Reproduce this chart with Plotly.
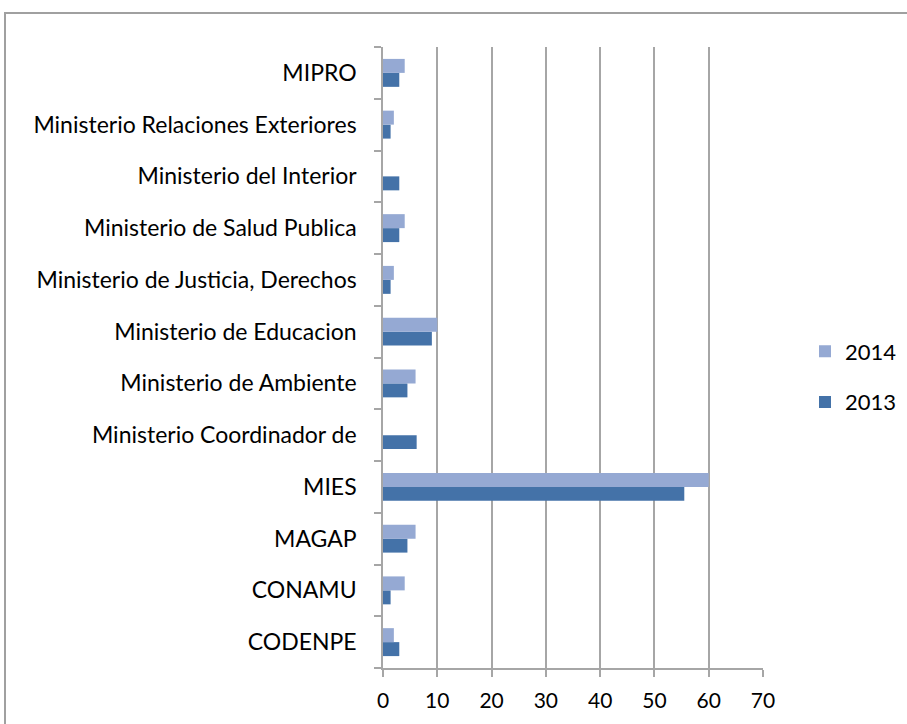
import plotly.graph_objects as go

categories = ["CODENPE", "CONAMU", "MAGAP", "MIES", "Ministerio Coordinador de",
              "Ministerio de Ambiente", "Ministerio de Educacion",
              "Ministerio de Justicia, Derechos", "Ministerio de Salud Publica",
              "Ministerio del Interior", "Ministerio Relaciones Exteriores", "MIPRO"]
values_2013 = [3, 1.4, 4.5, 55.5, 6.2, 4.5, 9, 1.4, 3, 3, 1.4, 3]
values_2014 = [2, 4, 6, 60, 0, 6, 10, 2, 4, 0, 2, 4]
x_ticks = [0, 10, 20, 30, 40, 50, 60, 70]

FONT = "Lato"
W, H = 907, 724
L, R, T, B = 383, 763, 47, 668

fig = go.Figure()
fig.add_trace(go.Bar(y=categories, x=values_2013, orientation="h", name="2013",
                     marker=dict(color="#4472a8", line=dict(width=0)),
                     legendgroup="a", legendrank=2))
fig.add_trace(go.Bar(y=categories, x=values_2014, orientation="h", name="2014",
                     marker=dict(color="#95a9d3", line=dict(width=0)),
                     legendgroup="b", legendrank=1))

pw, ph = R - L, B - T
def px(x): return (x - L) / pw
def py(y): return (B - y) / ph

fig.add_shape(type="rect", xref="paper", yref="paper",
              x0=px(5), y0=py(13), x1=px(1200), y1=py(900),
              line=dict(color="#a0a0a0", width=2), fillcolor="rgba(0,0,0,0)", layer="below")

fig.update_layout(
    width=W, height=H,
    margin=dict(l=L, r=W - R, t=T, b=H - B, autoexpand=False),
    paper_bgcolor="white", plot_bgcolor="white",
    barmode="group", bargap=0.46, bargroupgap=0,
    font=dict(family=FONT, size=23, color="#000000"),
    showlegend=True,
    legend=dict(x=px(805), y=py(377), xanchor="left", yanchor="middle",
                traceorder="grouped", tracegroupgap=19,
                font=dict(size=22, family=FONT), bgcolor="rgba(0,0,0,0)"),
    xaxis=dict(range=[0, 70], tickvals=x_ticks, ticktext=[str(v) for v in x_ticks],
               tickfont=dict(size=21),
               showgrid=True, gridcolor="#a6a6a6", gridwidth=1.5,
               zeroline=False, showline=True, linecolor="#a6a6a6", linewidth=1.5,
               ticks="outside", ticklen=7, tickcolor="#a6a6a6", tickwidth=1.5,
               ticklabelstandoff=6, fixedrange=True),
    yaxis=dict(type="category", categoryorder="array", categoryarray=categories,
               tickfont=dict(size=23),
               showgrid=False, zeroline=False, showline=True, linecolor="#a6a6a6",
               linewidth=1.5, ticks="outside", ticklen=7, tickcolor="#a6a6a6",
               tickwidth=1.5, tickson="boundaries", ticklabelstandoff=20,
               fixedrange=True),
)

fig.write_html("out.html", config={"displayModeBar": False},
               post_script="document.body.style.margin='0';document.body.style.padding='0';")
